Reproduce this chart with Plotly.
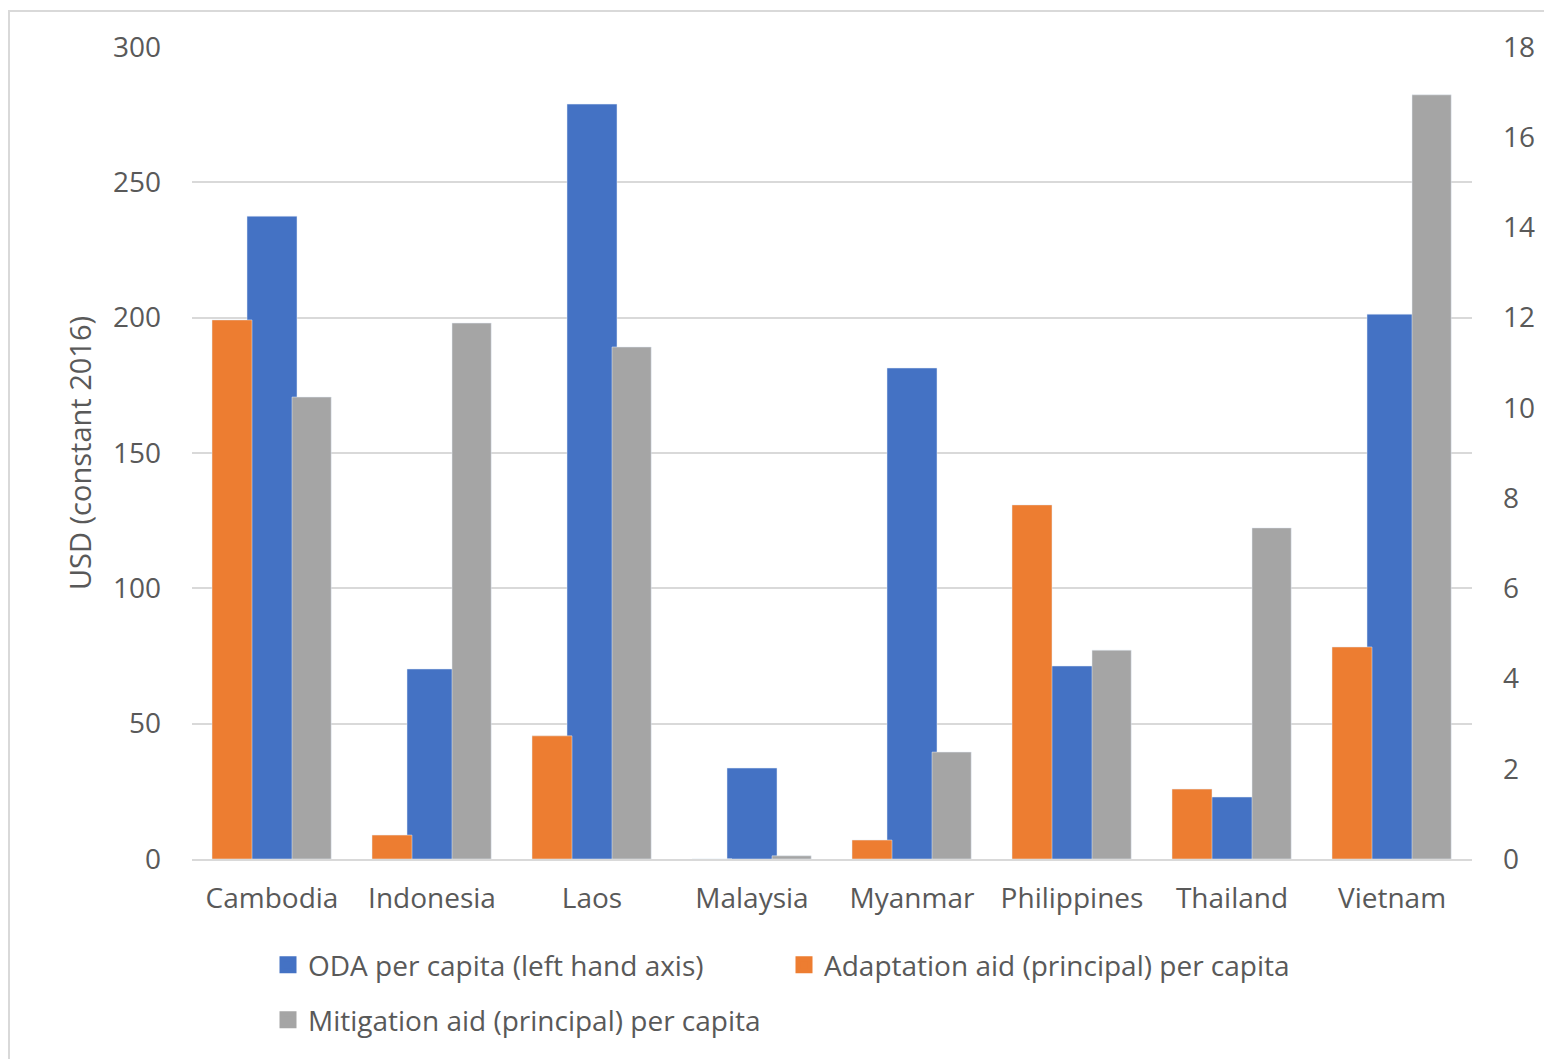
import plotly.graph_objects as go

countries = ["Cambodia", "Indonesia", "Laos", "Malaysia", "Myanmar", "Philippines", "Thailand", "Vietnam"]
oda_per_capita = [237.5, 70.2, 278.9, 33.6, 181.4, 71.3, 22.9, 201.3]
adaptation_per_capita = [11.95, 0.53, 2.73, 0.0, 0.42, 7.85, 1.55, 4.70]
mitigation_per_capita = [10.24, 11.88, 11.35, 0.07, 2.37, 4.63, 7.34, 16.94]
left_ticks = [0, 50, 100, 150, 200, 250, 300]
right_ticks = [0, 2, 4, 6, 8, 10, 12, 14, 16, 18]

TXT = "#595959"
GRID = "#D9D9D9"
FONT = "Open Sans"
FS = 28

# primary-axis series drawn first (underneath), secondary-axis series on top (Excel-style)
series = [
    # name, values, color, axis, bar width, bar offset, legend, rank
    ("ODA per capita (left hand axis)", oda_per_capita, "#4472C4", "y", 0.3125, -0.15625, "legend", 1),
    ("Adaptation aid (principal) per capita", adaptation_per_capita, "#ED7D31", "y2", 0.25, -0.375, "legend", 2),
    ("Mitigation aid (principal) per capita", mitigation_per_capita, "#A5A5A5", "y2", 0.245, 0.125, "legend2", 3),
]

fig = go.Figure()
for name, vals, col, ax, w, off, lg, rk in series:
    fig.add_trace(go.Bar(x=countries, y=vals, name=name, marker_color=col, yaxis=ax,
                         width=w, offset=off, showlegend=False))
# legend-only entries (no visible bars) with enlarged symbols
for name, vals, col, ax, w, off, lg, rk in series:
    fig.add_trace(go.Bar(x=[countries[0]], y=[None], name=name, yaxis=ax, width=w, offset=off,
                         marker=dict(color=col, line=dict(color=col, width=5)),
                         legend=lg, legendrank=rk, hoverinfo="skip"))

W, H = 1544, 1059
ml, mr, mt, mb = 192, 72, 47, 200
pw, ph = W - ml - mr, H - mt - mb

def px(x):
    return (x - ml) / pw

def py(y):
    return (H - mb - y) / ph

leg_common = dict(orientation="h", xanchor="left", yanchor="top",
                  entrywidth=471, entrywidthmode="pixels", font=dict(size=FS, color=TXT),
                  itemwidth=30, bgcolor="rgba(0,0,0,0)")

fig.update_layout(
    width=W, height=H,
    margin=dict(l=ml, r=mr, t=mt, b=mb, autoexpand=False),
    paper_bgcolor="white", plot_bgcolor="white",
    barmode="overlay",
    font=dict(family=FONT, size=FS, color=TXT),
    xaxis=dict(showline=True, linecolor=GRID, linewidth=2, showgrid=False,
               tickfont=dict(size=FS, color=TXT), ticklabelstandoff=13),
    yaxis=dict(range=[0, 300], tickvals=left_ticks, showgrid=True, gridcolor=GRID, gridwidth=2,
               zeroline=False, tickfont=dict(size=FS, color=TXT), ticklabelstandoff=30,
               title=dict(text="USD (constant 2016)", font=dict(size=29, color=TXT), standoff=12)),
    yaxis2=dict(range=[0, 18], tickvals=right_ticks, overlaying="y", side="right", showgrid=False,
                zeroline=False, tickfont=dict(size=FS, color=TXT), ticklabelstandoff=30),
    legend=dict(x=px(268), y=py(940), **leg_common),
    legend2=dict(x=px(268), y=py(995), **leg_common),
    shapes=[dict(type="rect", xref="paper", yref="paper", x0=px(9), x1=px(1560), y0=py(1075), y1=py(11),
                 line=dict(color=GRID, width=2), fillcolor="rgba(0,0,0,0)", layer="below")],
)

fig.write_html("out.html")
